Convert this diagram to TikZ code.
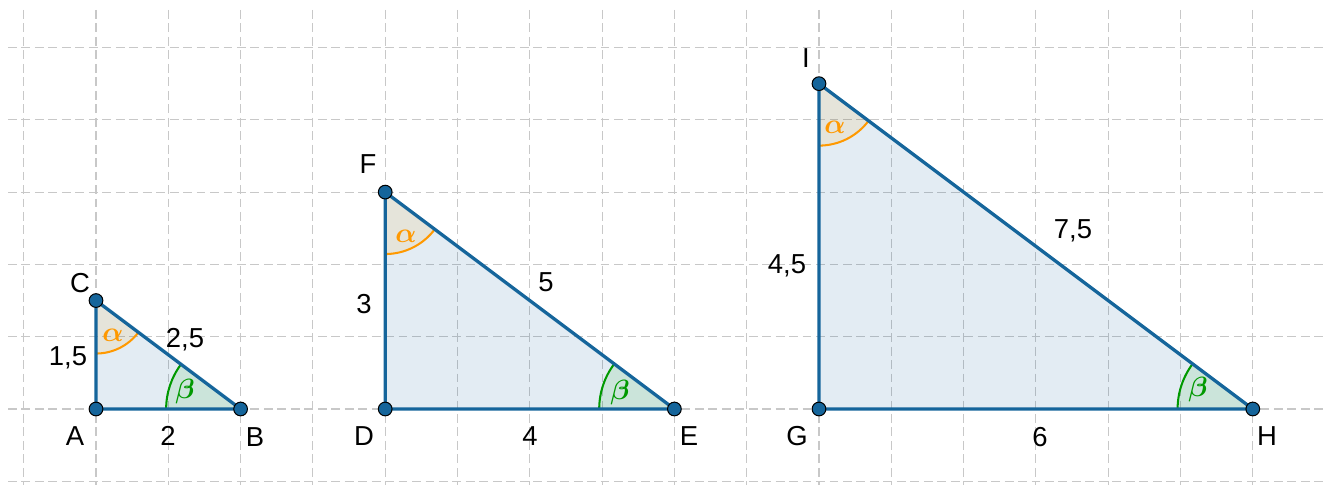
\documentclass[tikz,border=0pt]{standalone}
\usepackage{amsmath}
\usepackage{fontspec}
\setmainfont{Liberation Sans}
\definecolor{gridgray}{HTML}{C8C8C8}
\definecolor{edgeblue}{HTML}{15659B}
\definecolor{alphaor}{HTML}{FF9900}
\definecolor{betagr}{HTML}{009900}
\begin{document}
\begin{tikzpicture}[
  gridline/.style={draw=gridgray, line width=0.42pt, dash pattern=on 3.5pt off 1.8pt},
  edge/.style={draw=edgeblue, line width=1.3pt, line join=round},
  trifill/.style={fill=edgeblue, fill opacity=0.12},
  afill/.style={fill=alphaor, fill opacity=0.1},
  bfill/.style={fill=betagr, fill opacity=0.1},
  aarc/.style={draw=alphaor, line width=0.8pt},
  barc/.style={draw=betagr, line width=0.8pt},
  pt/.style={circle, fill=edgeblue, draw=black, line width=0.4pt, inner sep=0pt, minimum size=5.4pt},
  lbl/.style={font=\fontsize{10.8}{13}\selectfont, inner sep=0pt},
  alab/.style={text=alphaor, font=\fontsize{10.5}{12}\selectfont, inner sep=0pt},
  blab/.style={text=betagr, font=\fontsize{10.5}{12}\selectfont, inner sep=0pt}
]
\useasboundingbox (-1.328,-1.051) rectangle (16.985,5.657);
% grid
\foreach \x in {-1,...,16} \draw[gridline] (\x,5.519) -- (\x,-1.051);
\foreach \y in {-1,...,5} \draw[gridline] (-1.217,\y) -- (16.985,\y);
% vertices
\coordinate (A) at (0,0);
\coordinate (B) at (2,0);
\coordinate (C) at (0,1.5);
\coordinate (D) at (4,0);
\coordinate (E) at (8,0);
\coordinate (F) at (4,3);
\coordinate (G) at (10,0);
\coordinate (H) at (16,0);
\coordinate (I) at (10,4.5);
% fills
\fill[trifill] (A) -- (B) -- (C) -- cycle;
\fill[trifill] (D) -- (E) -- (F) -- cycle;
\fill[trifill] (G) -- (H) -- (I) -- cycle;
% angle sectors
\fill[afill] (C) -- ++(270:0.733) arc[start angle=270,end angle=323.13,radius=0.733] -- cycle;
\fill[afill] (F) -- ++(270:0.857) arc[start angle=270,end angle=323.13,radius=0.857] -- cycle;
\fill[afill] (I) -- ++(270:0.857) arc[start angle=270,end angle=323.13,radius=0.857] -- cycle;
\fill[bfill] (B) -- ++(143.13:1.03) arc[start angle=143.13,end angle=180,radius=1.03] -- cycle;
\fill[bfill] (E) -- ++(143.13:1.04) arc[start angle=143.13,end angle=180,radius=1.04] -- cycle;
\fill[bfill] (H) -- ++(143.13:1.04) arc[start angle=143.13,end angle=180,radius=1.04] -- cycle;
% arcs
\draw[aarc] (C) ++(270:0.733) arc[start angle=270,end angle=323.13,radius=0.733];
\draw[aarc] (F) ++(270:0.857) arc[start angle=270,end angle=323.13,radius=0.857];
\draw[aarc] (I) ++(270:0.857) arc[start angle=270,end angle=323.13,radius=0.857];
\draw[barc] (B) ++(143.13:1.03) arc[start angle=143.13,end angle=180,radius=1.03];
\draw[barc] (E) ++(143.13:1.04) arc[start angle=143.13,end angle=180,radius=1.04];
\draw[barc] (H) ++(143.13:1.04) arc[start angle=143.13,end angle=180,radius=1.04];
% edges
\draw[edge] (A) -- (B) -- (C) -- cycle;
\draw[edge] (D) -- (E) -- (F) -- cycle;
\draw[edge] (G) -- (H) -- (I) -- cycle;
% points
\foreach \p in {A,B,C,D,E,F,G,H,I} \node[pt] (pt\p) at (\p) {};
% vertex labels
\node[lbl] (lA) at (-0.290,-0.373) {A};
\node[lbl] (lB) at (2.199,-0.387) {B};
\node[lbl] (lC) at (-0.221,1.743) {C};
\node[lbl] (lD) at (3.707,-0.373) {D};
\node[lbl] (lE) at (8.202,-0.373) {E};
\node[lbl] (lF) at (3.762,3.389) {F};
\node[lbl] (lG) at (9.696,-0.373) {G};
\node[lbl] (lH) at (16.196,-0.373) {H};
\node[lbl] (lI) at (9.820,4.855) {I};
% side labels
\node[lbl] (s1) at (0.996,-0.373) {2};
\node[lbl] (s2) at (-0.387,0.705) {1,5};
\node[lbl] (s3) at (1.231,0.954) {2,5};
\node[lbl] (s4) at (6.003,-0.373) {4};
\node[lbl] (s5) at (3.707,1.452) {3};
\node[lbl] (s6) at (6.224,1.757) {5};
\node[lbl] (s7) at (13.057,-0.387) {6};
\node[lbl] (s8) at (9.557,1.978) {4,5};
\node[lbl] (s9) at (13.513,2.462) {7,5};
% angle labels
\node[alab] (a1) at (0.235,1.024) {$\boldsymbol{\alpha}$};
\node[alab] (a2) at (4.288,2.393) {$\boldsymbol{\alpha}$};
\node[alab] (a3) at (10.221,3.900) {$\boldsymbol{\alpha}$};
\node[blab] (b1) at (1.231,0.235) {$\boldsymbol{\beta}$};
\node[blab] (b2) at (7.248,0.221) {$\boldsymbol{\beta}$};
\node[blab] (b3) at (15.242,0.263) {$\boldsymbol{\beta}$};
\end{tikzpicture}
\end{document}
